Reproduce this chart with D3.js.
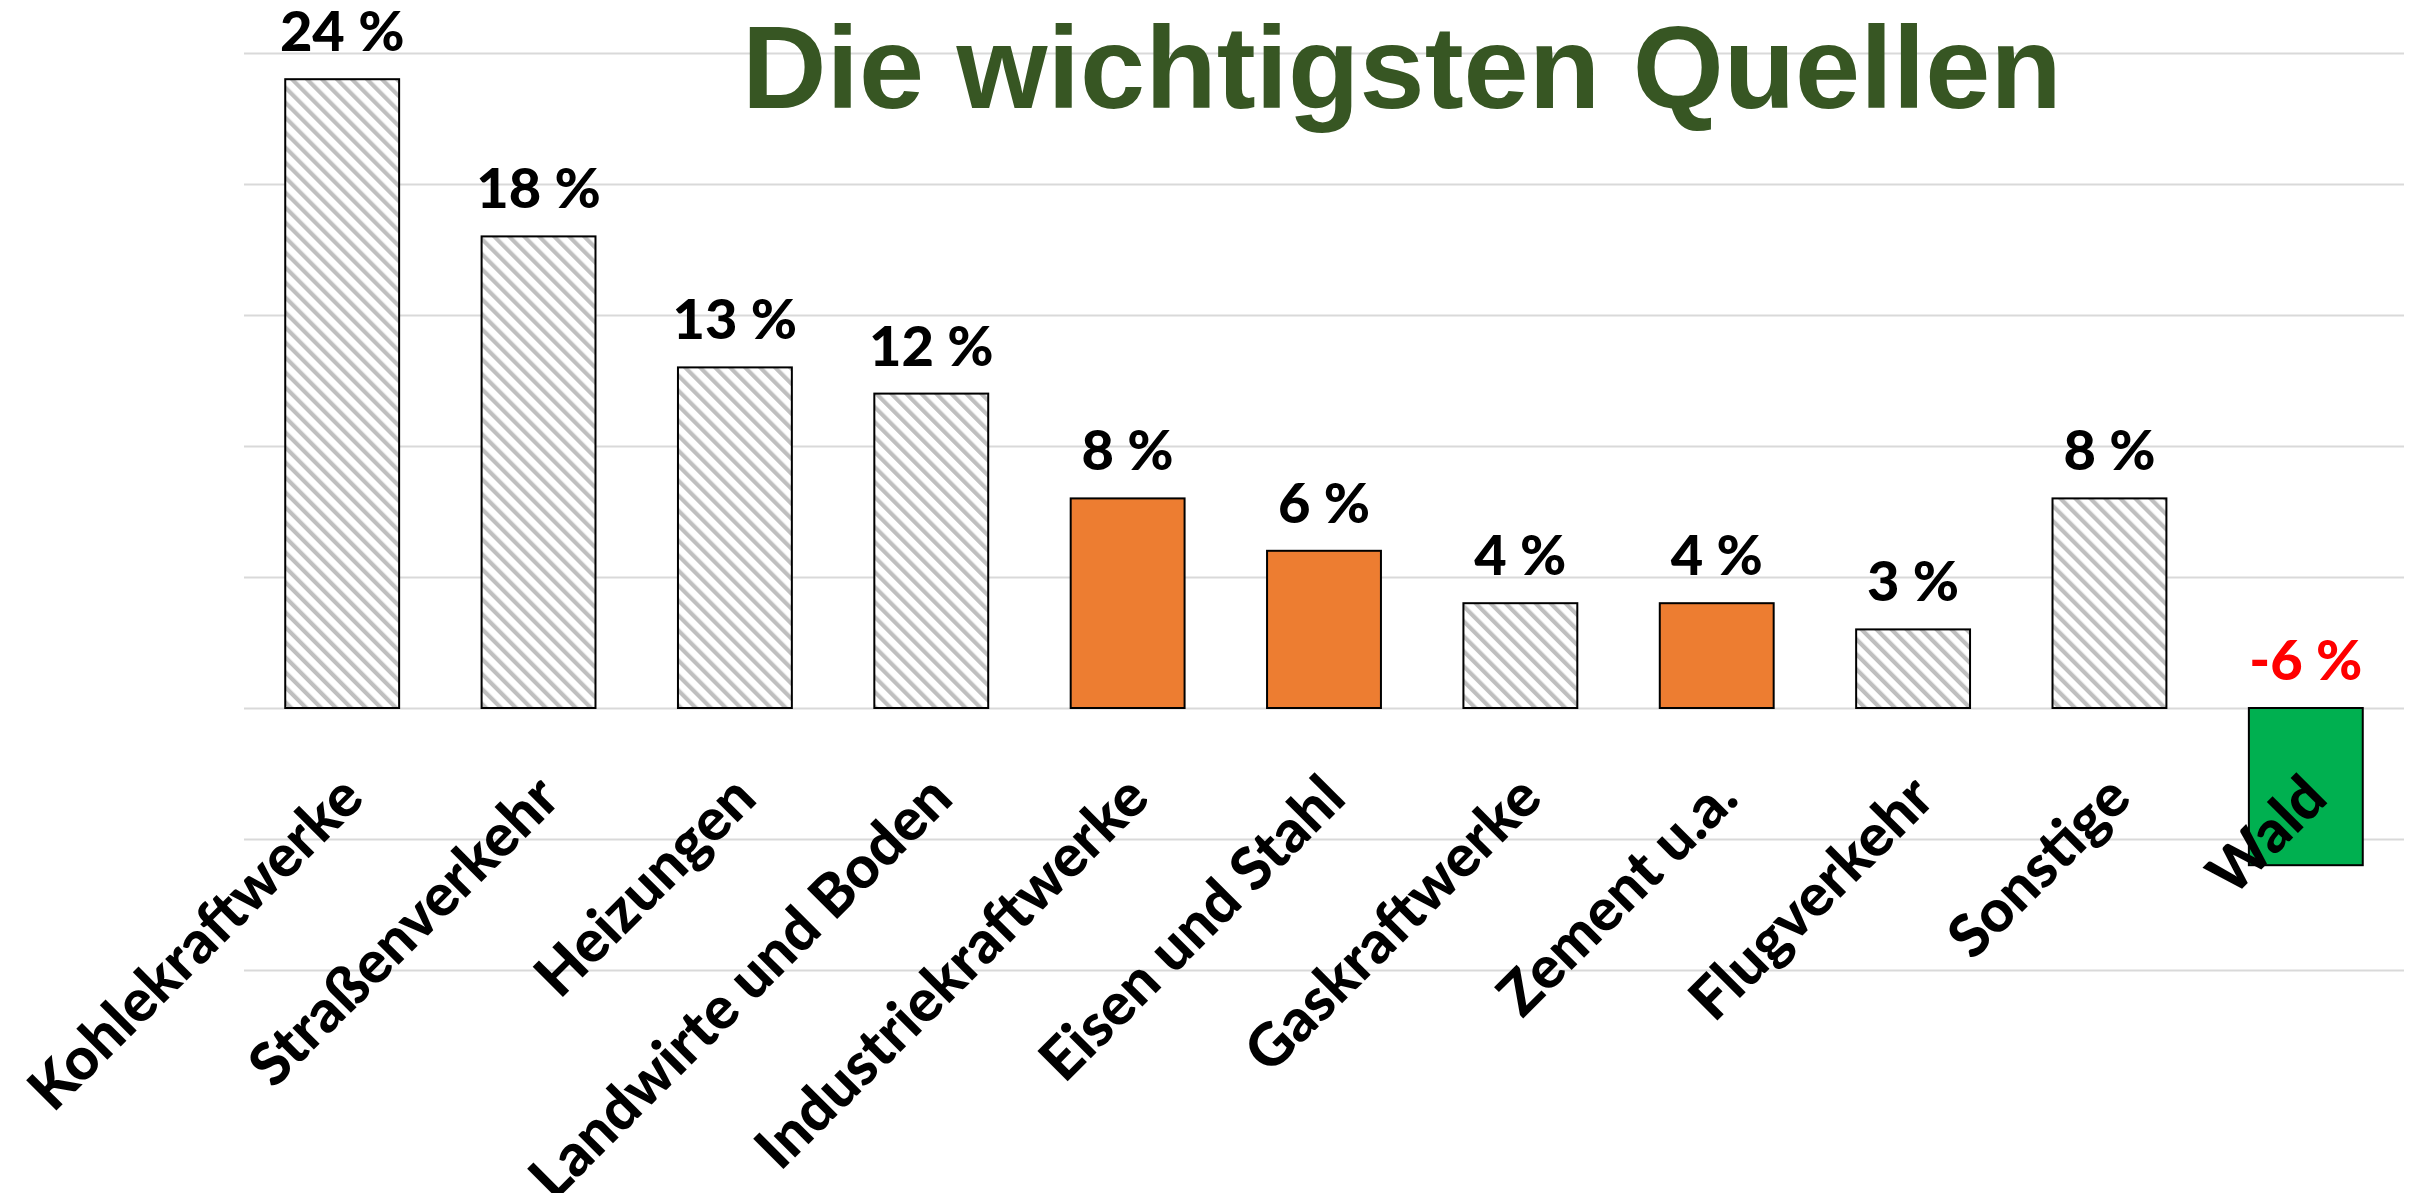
<!DOCTYPE html>
<html>
<head>
<meta charset="utf-8">
<script src="https://cdn.jsdelivr.net/npm/d3@7"></script>
<style>
  body { margin: 0; background: #fff; }
</style>
</head>
<body>
<div id="chart"></div>
<script>
/** data */
var categories = ["Kohlekraftwerke", "Straßenverkehr", "Heizungen", "Landwirte und Boden",
  "Industriekraftwerke", "Eisen und Stahl", "Gaskraftwerke", "Zement u.a.",
  "Flugverkehr", "Sonstige", "Wald"];
var shares = [24, 18, 13, 12, 8, 6, 4, 4, 3, 8, -6];
var industry = ["Industriekraftwerke", "Eisen und Stahl", "Zement u.a."];
var gridTicks = [-10, -5, 0, 5, 10, 15, 20, 25];
var title = "Die wichtigsten Quellen";

/** size of the page */
var width = 2424;
var height = 1193;

var svg = d3.select("#chart")
  .append("svg")
    .attr("width", width)
    .attr("height", height)
    .style("display", "block");

svg.append("rect")
  .attr("width", width)
  .attr("height", height)
  .attr("fill", "#fff");

/** grey diagonal hatch like the excel pattern fill */
var pat = svg.append("defs")
  .append("pattern")
    .attr("id", "hatch")
    .attr("patternUnits", "userSpaceOnUse")
    .attr("width", 10.6)
    .attr("height", 10.6)
    .attr("patternTransform", "rotate(-45)");
pat.append("rect")
  .attr("width", 10.6)
  .attr("height", 10.6)
  .attr("fill", "#fff");
pat.append("rect")
  .attr("width", 4.2)
  .attr("height", 10.6)
  .attr("fill", "#bfbfbf");

/** scales */
var x = d3.scaleBand()
  .domain(categories)
  .range([244, 2404])
  .paddingInner(0.42)
  .paddingOuter(0.21);

var y = d3.scaleLinear()
  .domain([-10, 25])
  .range([970, 53]);

/** horizontal gridlines (no tick labels in the original) */
svg.append("g")
  .attr("transform", "translate(" + x.range()[0] + ",0)")
  .call(d3.axisLeft(y)
    .tickValues(gridTicks)
    .tickSize(-(x.range()[1] - x.range()[0]))
    .tickFormat(""))
  .call(function(g) { g.select(".domain").remove(); })
  .call(function(g) {
    g.selectAll(".tick line")
      .attr("stroke", "#d9d9d9")
      .attr("stroke-width", 2);
  });

/** title */
svg.append("text")
  .attr("x", 742)
  .attr("y", 108)
  .attr("font-family", "'Liberation Sans', Arial, sans-serif")
  .attr("font-weight", "bold")
  .attr("font-size", 117)
  .attr("fill", "#375623")
  .text(title);

var data = categories.map(function(c, i) { return {name: c, value: shares[i]}; });

function barFill(d) {
  if (d.value < 0) return "#00b050";
  if (industry.indexOf(d.name) >= 0) return "#ed7d31";
  return "url(#hatch)";
}

/** bars */
svg.selectAll("rect.bar")
  .data(data)
  .enter()
  .append("rect")
    .attr("class", "bar")
    .attr("x", function(d) { return x(d.name); })
    .attr("y", function(d) { return y(Math.max(0, d.value)); })
    .attr("width", x.bandwidth())
    .attr("height", function(d) { return Math.abs(y(d.value) - y(0)); })
    .attr("fill", barFill)
    .attr("stroke", "#000")
    .attr("stroke-width", 2);

/** value labels, always above the zero line / bar top */
svg.selectAll("text.value")
  .data(data)
  .enter()
  .append("text")
    .attr("class", "value")
    .attr("x", function(d) { return x(d.name) + x.bandwidth() / 2; })
    .attr("y", function(d) { return y(Math.max(0, d.value)) - 28; })
    .attr("text-anchor", "middle")
    .attr("font-family", "Lato, 'Open Sans', sans-serif")
    .attr("font-weight", 900)
    .attr("font-size", 56)
    .attr("fill", function(d) { return d.value < 0 ? "#ff0000" : "#000"; })
    .text(function(d) { return d.value + " %"; });

/** rotated category labels */
svg.selectAll("text.cat")
  .data(data)
  .enter()
  .append("text")
    .attr("class", "cat")
    .attr("transform", function(d) {
      return "translate(" + (x(d.name) + x.bandwidth() / 2 + 24) + ",801) rotate(-45)";
    })
    .attr("text-anchor", "end")
    .attr("font-family", "Lato, 'Open Sans', sans-serif")
    .attr("font-weight", 900)
    .attr("font-size", 59)
    .attr("fill", "#000")
    .text(function(d) { return d.name; });
</script>
</body>
</html>
